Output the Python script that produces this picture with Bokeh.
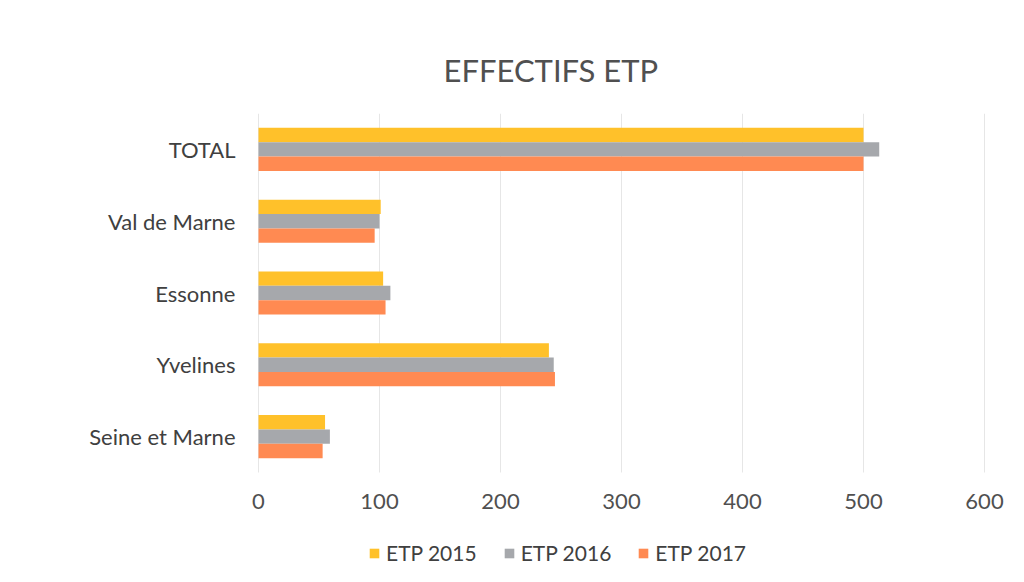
from bokeh.plotting import figure
from bokeh.models import Range1d, Legend, LegendItem, ColumnDataSource, FixedTicker
from bokeh.transform import dodge
from bokeh.embed import file_html
from bokeh.resources import INLINE

categories = ["Seine et Marne", "Yvelines", "Essonne", "Val de Marne", "TOTAL"]
etp_2015 = [55, 240, 103, 101, 500]
etp_2016 = [59, 244, 109, 100, 513]
etp_2017 = [53, 245, 105, 96, 500]
series_names = ["ETP 2015", "ETP 2016", "ETP 2017"]
x_ticks = [0, 100, 200, 300, 400, 500, 600]

colors = ["#FFC12A", "#A6A8AC", "#FF8A52"]
FONT = "Lato"

n = len(categories)
pos = list(range(n))
source = ColumnDataSource(dict(pos=pos, e15=etp_2015, e16=etp_2016, e17=etp_2017))

# layout (pixels)
W, H = 1008, 566
TOP = 113
band_px = 71.8
x0_px, x600_px = 258, 984
px_per_unit = (x600_px - x0_px) / 600.0
frame_h = H - TOP
y_top = n - 0.5
y_bottom = y_top - frame_h / band_px
x_start = -x0_px / px_per_unit
x_end = 600 + (W - x600_px) / px_per_unit

p = figure(width=W, height=H, output_backend="svg", toolbar_location=None,
           y_range=Range1d(y_bottom, y_top), x_range=Range1d(x_start, x_end),
           min_border_left=0, min_border_right=0, min_border_top=TOP, min_border_bottom=0)

# vertical gridlines limited to the category area
p.segment(x0=x_ticks, x1=x_ticks, y0=[-0.5] * len(x_ticks), y1=[n - 0.5] * len(x_ticks),
          line_color="#E6E6E6", line_width=1, level="underlay")

offsets = [0.2, 0.0, -0.2]
cols = ["e15", "e16", "e17"]
renderers = []
for col, off, c in zip(cols, offsets, colors):
    r = p.hbar(y=dodge("pos", off), right=col, left=0, height=0.2,
               source=source, fill_color=c, line_color=None)
    renderers.append(r)

p.title.text = "EFFECTIFS ETP"
p.title.text_font = FONT
p.title.text_font_size = "31px"
p.title.text_font_style = "normal"
p.title.text_color = "#505050"
p.title.align = "left"
p.title.offset = 443
p.title.standoff = 50

p.outline_line_color = None
p.background_fill_color = "white"
p.border_fill_color = "white"
p.xgrid.grid_line_color = None
p.ygrid.grid_line_color = None

p.xaxis.ticker = FixedTicker(ticks=x_ticks)
p.xaxis.fixed_location = -0.5
p.xaxis.axis_line_color = None
p.xaxis.major_tick_line_color = None
p.xaxis.minor_tick_line_color = None
p.xaxis.major_label_text_font = FONT
p.xaxis.major_label_text_font_size = "22px"
p.xaxis.major_label_text_color = "#505050"
p.xaxis.major_label_standoff = 15

p.yaxis.ticker = FixedTicker(ticks=pos)
p.yaxis.fixed_location = 0
p.yaxis.major_label_overrides = {i: c for i, c in zip(pos, categories)}
p.yaxis.axis_line_color = None
p.yaxis.major_tick_line_color = None
p.yaxis.minor_tick_line_color = None
p.yaxis.major_label_text_font = FONT
p.yaxis.major_label_text_font_size = "22px"
p.yaxis.major_label_text_color = "#404040"
p.yaxis.major_label_standoff = 17

items = [LegendItem(label=nm, renderers=[r]) for nm, r in zip(series_names, renderers)]
legend = Legend(items=items, orientation="horizontal", location=(368, 1),
                glyph_width=12, glyph_height=12, label_standoff=6, spacing=26,
                padding=0, margin=0, border_line_color=None, background_fill_alpha=0,
                label_text_font=FONT, label_text_font_size="21px", label_text_color="#404040")
p.add_layout(legend, "center")

open("out.html", "w").write(file_html(p, INLINE))
